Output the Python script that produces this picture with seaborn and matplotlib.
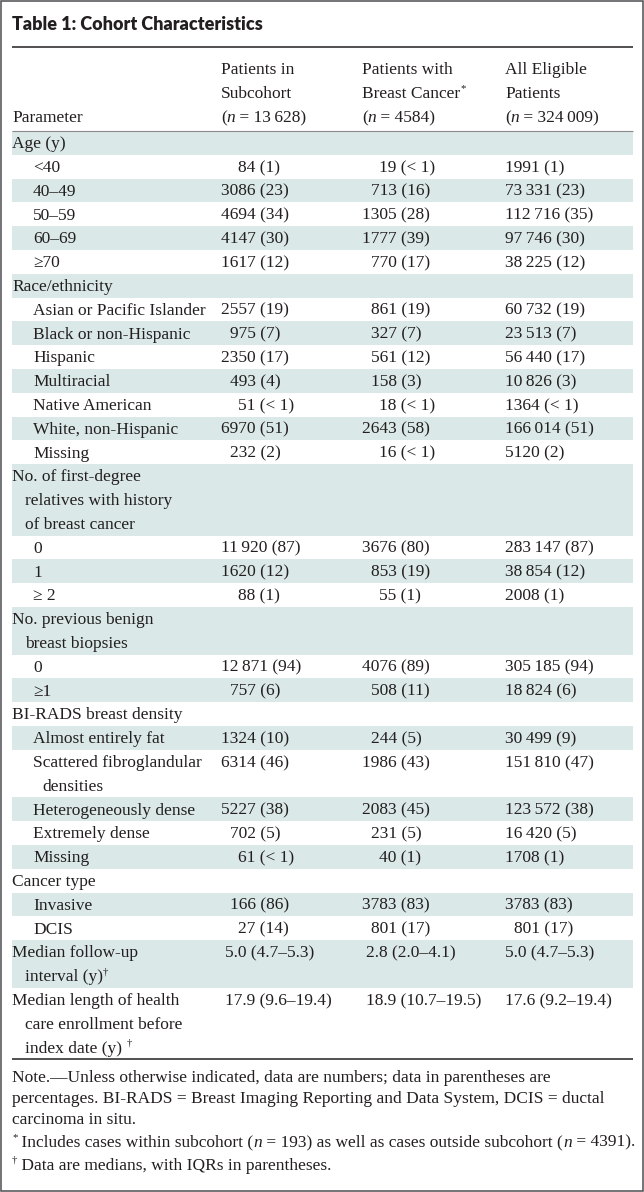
import re
import matplotlib
matplotlib.use("Agg")
import matplotlib.pyplot as plt
from matplotlib.patches import Rectangle
import seaborn as sns

# ---------------- data ----------------
title = "Table 1: Cohort Characteristics"
param_header = "Parameter"
col_headers = [
    ["Patients in", "Subcohort", "(n = 13\u2009628)"],
    ["Patients with", "Breast Cancer*", "(n = 4584)"],
    ["All Eligible", "Patients", "(n = 324\u2009009)"],
]

sections = [
    "Age (y)",
    "Race/ethnicity",
    "No. of first-degree\nrelatives with history\nof breast cancer",
    "No. previous benign\nbreast biopsies",
    "BI-RADS breast density",
    "Cancer type",
]
categories = [
    ["<40", "40–49", "50–59", "60–69", "≥70"],
    ["Asian or Pacific Islander", "Black or non-Hispanic", "Hispanic", "Multiracial",
     "Native American", "White, non-Hispanic", "Missing"],
    ["0", "1", "≥ 2"],
    ["0", "≥1"],
    ["Almost entirely fat", "Scattered fibroglandular\ndensities", "Heterogeneously dense",
     "Extremely dense", "Missing"],
    ["Invasive", "DCIS"],
]
subcohort_n = [[84, 3086, 4694, 4147, 1617],
               [2557, 975, 2350, 493, 51, 6970, 232],
               [11920, 1620, 88],
               [12871, 757],
               [1324, 6314, 5227, 702, 61],
               [166, 27]]
subcohort_pct = [["1", "23", "34", "30", "12"],
                 ["19", "7", "17", "4", "< 1", "51", "2"],
                 ["87", "12", "1"],
                 ["94", "6"],
                 ["10", "46", "38", "5", "< 1"],
                 ["86", "14"]]
cancer_n = [[19, 713, 1305, 1777, 770],
            [861, 327, 561, 158, 18, 2643, 16],
            [3676, 853, 55],
            [4076, 508],
            [244, 1986, 2083, 231, 40],
            [3783, 801]]
cancer_pct = [["< 1", "16", "28", "39", "17"],
              ["19", "7", "12", "3", "< 1", "58", "< 1"],
              ["80", "19", "1"],
              ["89", "11"],
              ["5", "43", "45", "5", "1"],
              ["83", "17"]]
eligible_n = [[1991, 73331, 112716, 97746, 38225],
              [60732, 23513, 56440, 10826, 1364, 166014, 5120],
              [283147, 38854, 2008],
              [305185, 18824],
              [30499, 151810, 123572, 16420, 1708],
              [3783, 801]]
eligible_pct = [["1", "23", "35", "30", "12"],
                ["19", "7", "17", "3", "< 1", "51", "2"],
                ["87", "12", "1"],
                ["94", "6"],
                ["9", "47", "38", "5", "1"],
                ["83", "17"]]

median_labels = ["Median follow-up\ninterval (y)†",
                 "Median length of health\ncare enrollment before\nindex date (y) †"]
median_subcohort = ["5.0 (4.7–5.3)", "17.9 (9.6–19.4)"]
median_cancer = ["2.8 (2.0–4.1)", "18.9 (10.7–19.5)"]
median_eligible = ["5.0 (4.7–5.3)", "17.6 (9.2–19.4)"]

note_lines = [
    "Note.—Unless otherwise indicated, data are numbers; data in parentheses are",
    "percentages. BI-RADS = Breast Imaging Reporting and Data System, DCIS = ductal",
    "carcinoma in situ.",
]
footnotes = [
    "* Includes cases within subcohort (n = 193) as well as cases outside subcohort (n = 4391).",
    "† Data are medians, with IQRs in parentheses.",
]

# ---------------- style ----------------
sns.set_theme(style="white")
SERIF = ["Liberation Serif", "DejaVu Serif"]
plt.rcParams["font.family"] = SERIF

W, H = 644, 1192
fig = plt.figure(figsize=(W / 100, H / 100), dpi=100)
ax = fig.add_axes([0, 0, 1, 1])
ax.set_xlim(0, W)
ax.set_ylim(H, 0)
ax.axis("off")
renderer = fig.canvas.get_renderer()

TXT = "#231f20"
SHADE = "#dbe8e8"
FS = 12.5
PX = 100 / 72

X_LEFT, X_RIGHT = 12, 633
COL_X = [221, 362, 505]
TITLE_W = 250


def _raw_w(s, **kw):
    t = ax.text(0, 0, s, **kw)
    w = t.get_window_extent(renderer).width
    t.remove()
    return w


def text_width(s, **kw):
    return _raw_w("|" + s + "|", **kw) - _raw_w("||", **kw)


def parse(s):
    runs = []
    pieces = re.split(r"(?<=\()n(?= =)", s)
    for k, piece in enumerate(pieces):
        if k > 0:
            runs.append(("n", "i"))
        for part in re.split(r"([*†])", piece):
            if not part:
                continue
            runs.append((part, "sup" if part in "*†" else "r"))
    return runs


def draw_runs(x, yc, s, fs=FS):
    cx = x
    yb = yc + 0.31 * fs * PX
    for txt, st in parse(s):
        kw = dict(fontsize=fs, color=TXT, family=SERIF)
        y = yb
        if st == "i":
            kw["style"] = "italic"
        if st == "sup":
            kw["fontsize"] = fs * 0.62
            y = yb - 0.40 * fs * PX
        ax.text(cx, y, txt, ha="left", va="baseline", **kw)
        cx += text_width(txt, **kw)
    return cx


DIGIT_W = text_width("0", fontsize=FS, family=SERIF)


def fmt_n(n):
    return f"{n:,}".replace(",", "\u2009") if n >= 10000 else str(n)


def pad(n):
    return max(0, 4 - len(str(n))) * DIGIT_W


# ---------------- frame & title ----------------
ax.add_patch(Rectangle((0.75, 0.75), W - 1.5, H - 1.5, fill=False,
                       ec="#4d4d4f", lw=1.1, zorder=5))
tkw = dict(family=["Lato", "DejaVu Sans"], weight="heavy", color=TXT)
tfs = 12.0
tfs *= TITLE_W / _raw_w(title, fontsize=tfs, **tkw)
ax.text(X_LEFT, 29.5, title, fontsize=tfs, ha="left", va="baseline", **tkw)
ax.plot([X_LEFT, X_RIGHT], [47, 47], color=TXT, lw=1.1, solid_capstyle="butt")

# header
HEAD_Y = [69, 93, 117]
draw_runs(X_LEFT, HEAD_Y[2], param_header)
for j, lines in enumerate(col_headers):
    for k, ln in enumerate(lines):
        draw_runs(COL_X[j], HEAD_Y[k], ln)
Y0 = 131
ax.plot([X_LEFT, X_RIGHT], [Y0, Y0], color="#8a8a8a", lw=0.8, solid_capstyle="butt")

# ---------------- body rows ----------------
rows = []
for s, sec in enumerate(sections):
    rows.append(dict(lines=sec.split("\n"), level=0, vals=None))
    for c, cat in enumerate(categories[s]):
        vals = []
        for ns, ps in ((subcohort_n, subcohort_pct), (cancer_n, cancer_pct),
                       (eligible_n, eligible_pct)):
            n = ns[s][c]
            vals.append((f"{fmt_n(n)} ({ps[s][c]})", pad(n)))
        rows.append(dict(lines=cat.split("\n"), level=1, vals=vals))
for m, lab in enumerate(median_labels):
    vals = [(median_subcohort[m], 4), (median_cancer[m], 4), (median_eligible[m], 0)]
    rows.append(dict(lines=lab.split("\n"), level=0, vals=vals))

P = 23.8
line = 0
for r, row in enumerate(rows):
    top = Y0 + line * P
    nl = len(row["lines"])
    if r % 2 == 0:
        ax.add_patch(Rectangle((X_LEFT, top), X_RIGHT - X_LEFT, nl * P,
                               color=SHADE, lw=0, zorder=0))
    for k, ln in enumerate(row["lines"]):
        yc = top + (k + 0.5) * P
        if row["level"] == 0:
            x = X_LEFT if k == 0 else 25
        else:
            x = 33 if k == 0 else 42
        draw_runs(x, yc, ln)
    if row["vals"] is not None:
        yc = top + 0.5 * P
        for j, (v, off) in enumerate(row["vals"]):
            draw_runs(COL_X[j] + off, yc, v)
    line += nl

Y_END = Y0 + line * P
ax.plot([X_LEFT, X_RIGHT], [Y_END, Y_END], color=TXT, lw=1.1, solid_capstyle="butt")

# ---------------- notes ----------------
ny = Y_END + 17
for ln in note_lines:
    draw_runs(X_LEFT, ny, ln)
    ny += 21
ny += 2
for ln in footnotes:
    draw_runs(X_LEFT, ny, ln)
    ny += 23

fig.savefig("out.png", dpi=100)
